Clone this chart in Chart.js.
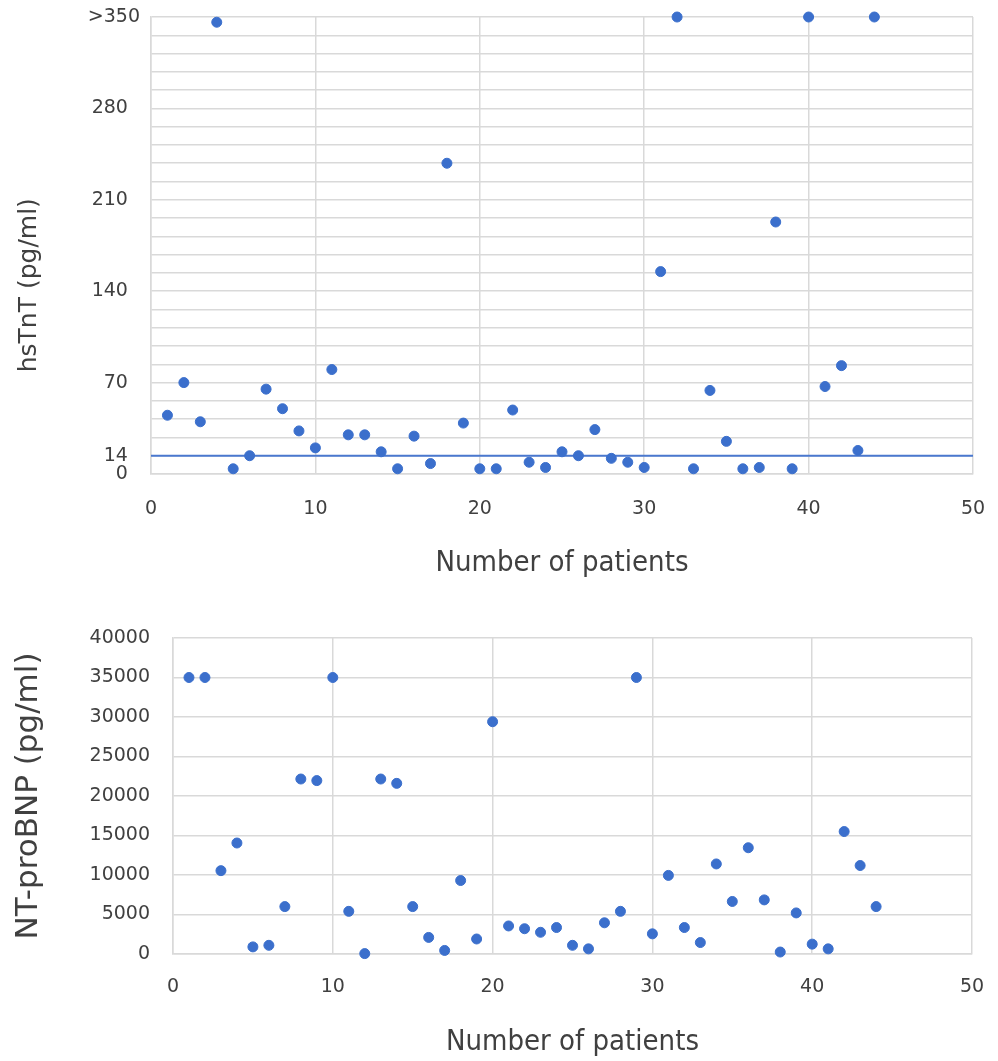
<!DOCTYPE html>
<html>
<head>
<meta charset="utf-8">
<script src="https://cdn.jsdelivr.net/npm/chart.js@4"></script>
<style>
  body { margin: 0; background: #fff; }
  .box { position: absolute; left: 0; width: 998px; }
  #top { top: 0; height: 600px; }
  #bottom { top: 600px; height: 461px; }
</style>
</head>
<body>
<div class="box" id="top"><canvas id="tntChart"></canvas></div>
<div class="box" id="bottom"><canvas id="bnpChart"></canvas></div>
<script>
const patients = [1, 2, 3, 4, 5, 6, 7, 8, 9, 10, 11, 12, 13, 14, 15, 16, 17, 18, 19, 20, 21, 22,
    23, 24, 25, 26, 27, 28, 29, 30, 31, 32, 33, 34, 35, 36, 37, 38, 39, 40, 41, 42, 43, 44];

// hsTnT values (pg/ml), 350 = ">350"
const hsTnT = [45, 70, 40, 346, 4, 14, 65, 50, 33, 20, 80, 30, 30, 17, 4, 29, 8, 238, 39, 4, 4, 49,
    9, 5, 17, 14, 34, 12, 9, 5, 155, 350, 4, 64, 25, 4, 5, 193, 4, 350, 67, 83, 18, 350];

// NT-proBNP values (pg/ml)
const ntProBNP = [35000, 35000, 10550, 14050, 900, 1100, 6000, 22150, 21950, 35000, 5400, 50,
    22150, 21600, 6000, 2100, 450, 9300, 1900, 29400, 3550, 3200, 2750, 3350, 1100, 650, 3950,
    5400, 35000, 2550, 9950, 3350, 1450, 11400, 6650, 13450, 6850, 250, 5200, 1250, 650, 15500,
    11200, 6000];

const tntTickLabels = { 0: "0", 14: "14", 70: "70", 140: "140", 210: "210", 280: "280", 350: ">350" };
const cutoff = 14;

const textColor = "#404040";
const gridColor = "#d9d9d9";
const dotColor = "#3b6fcc";
const tickFont = { family: "'DejaVu Sans'", size: 19 };
const xTitleFont = { family: "'DejaVu Sans Condensed', 'DejaVu Sans'", size: 29 };

function points(values) {
    return patients.map((p, i) => ({ x: p, y: values[i] }));
}

// fixed axis sizes, and no extra room for overhanging labels
function fixSize(scale, w, h) {
    if (w) scale.width = w;
    if (h) scale.height = h;
    scale.paddingTop = 0;
    scale.paddingBottom = 0;
    scale.paddingLeft = 0;
    scale.paddingRight = 0;
}

function xAxis(height, tickPad, titlePad) {
    return {
        type: "linear",
        min: 0,
        max: 50,
        ticks: { stepSize: 10, color: textColor, font: tickFont, padding: tickPad, maxRotation: 0 },
        grid: { color: gridColor, lineWidth: 1.5, drawTicks: false },
        border: { color: gridColor, width: 1.5 },
        title: {
            display: true,
            text: "Number of patients",
            color: textColor,
            font: xTitleFont,
            padding: { top: 0, bottom: titlePad }
        },
        afterFit: (scale) => fixSize(scale, 0, height)
    };
}

// top chart: hsTnT
new Chart(document.getElementById("tntChart"), {
    type: "scatter",
    data: {
        datasets: [{
            data: points(hsTnT),
            backgroundColor: dotColor,
            borderColor: dotColor,
            pointRadius: 5,
            pointHoverRadius: 5,
            clip: false
        }, {
            type: "line",
            data: [{ x: 0, y: cutoff }, { x: 50, y: cutoff }],
            borderColor: "#4a78cf",
            borderWidth: 2,
            pointRadius: 0,
            fill: false
        }]
    },
    options: {
        responsive: true,
        maintainAspectRatio: false,
        animation: false,
        layout: { padding: { top: 17, right: 25, left: 0, bottom: 0 } },
        plugins: { legend: { display: false }, tooltip: { enabled: false } },
        scales: {
            x: xAxis(126, 24, 19),
            y: {
                type: "linear",
                min: 0,
                max: 350,
                ticks: {
                    stepSize: 14,
                    autoSkip: false,
                    color: textColor,
                    font: tickFont,
                    padding: 11,
                    callback: (v) => {
                        const t = tntTickLabels[v];
                        if (t === undefined) return "";
                        return v === 350 ? t : t + "  ";
                    }
                },
                grid: { color: gridColor, lineWidth: 1.5, drawTicks: false },
                border: { color: gridColor, width: 1.5 },
                title: {
                    display: true,
                    text: "hsTnT (pg/ml)" + "\u00a0".repeat(10),
                    color: textColor,
                    font: { family: "'DejaVu Sans'", size: 25 },
                    padding: { top: 14, bottom: 0 }
                },
                afterFit: (scale) => fixSize(scale, 151, 0)
            }
        }
    }
});

// bottom chart: NT-proBNP
new Chart(document.getElementById("bnpChart"), {
    type: "scatter",
    data: {
        datasets: [{
            data: points(ntProBNP),
            backgroundColor: dotColor,
            borderColor: dotColor,
            pointRadius: 5,
            pointHoverRadius: 5,
            clip: false
        }]
    },
    options: {
        responsive: true,
        maintainAspectRatio: false,
        animation: false,
        layout: { padding: { top: 38, right: 26, left: 0, bottom: 0 } },
        plugins: { legend: { display: false }, tooltip: { enabled: false } },
        scales: {
            x: xAxis(107, 22, 1),
            y: {
                type: "linear",
                min: 0,
                max: 40000,
                ticks: {
                    stepSize: 5000,
                    color: textColor,
                    font: tickFont,
                    padding: 23,
                    callback: (v) => String(v)
                },
                grid: { color: gridColor, lineWidth: 1.5, drawTicks: false },
                border: { color: gridColor, width: 1.5 },
                title: {
                    display: true,
                    text: "NT-proBNP (pg/ml)",
                    color: textColor,
                    font: { family: "'DejaVu Sans'", size: 31 },
                    padding: { top: 10, bottom: 0 }
                },
                afterFit: (scale) => fixSize(scale, 173, 0)
            }
        }
    }
});
</script>
</body>
</html>
